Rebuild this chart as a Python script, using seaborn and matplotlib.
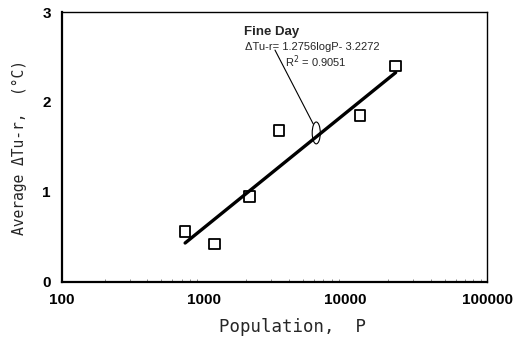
import matplotlib
matplotlib.use("Agg")
import matplotlib.pyplot as plt
from matplotlib.patches import Ellipse
from matplotlib.ticker import LogLocator, FixedLocator, NullFormatter
import numpy as np
import pandas as pd
import seaborn as sns

# Observed towns: population and mean urban-rural temperature difference
population = [740, 1190, 2100, 3400, 12700, 22600]
delta_t = [0.56, 0.42, 0.95, 1.68, 1.85, 2.40]

# Regression for fine days
slope = 1.2756
intercept = -3.2272
r_squared = 0.9051

x_ticks = [100, 1000, 10000, 100000]
x_tick_labels = ["100", "1000", "10000", "100000"]
y_ticks = [0, 1, 2, 3]

sns.set_theme(style="white")
plt.rcParams["font.family"] = ["Liberation Sans", "DejaVu Sans"]

fig = plt.figure(figsize=(5.2, 3.43), dpi=100)
ax = fig.add_axes([0.119, 0.178, 0.818, 0.787])

obs = pd.DataFrame({"P": population, "dT": delta_t})
fit_p = np.array([min(population), max(population)])
fit = pd.DataFrame({"P": fit_p, "dT": slope * np.log10(fit_p) + intercept})

sns.lineplot(data=fit, x="P", y="dT", ax=ax, color="black", linewidth=2.4)
sns.scatterplot(data=obs, x="P", y="dT", ax=ax, marker="s", s=58,
                facecolor="none", edgecolor="black", linewidth=1.3, zorder=5)

ax.set_xscale("log")
ax.set_xlim(100, 100000)
ax.set_ylim(0, 3)
ax.xaxis.set_major_locator(FixedLocator(x_ticks))
ax.set_xticklabels(x_tick_labels)
ax.xaxis.set_minor_locator(LogLocator(base=10, subs=np.arange(2, 10)))
ax.xaxis.set_minor_formatter(NullFormatter())
ax.set_yticks(y_ticks)
ax.set_yticklabels([str(v) for v in y_ticks])
ax.tick_params(axis="both", which="major", length=0, pad=8, labelsize=11,
               labelcolor="black")
ax.tick_params(axis="x", which="minor", direction="in", length=2.5,
               width=0.6, color="#777777", bottom=True)
for lbl in ax.get_xticklabels() + ax.get_yticklabels():
    lbl.set_fontweight("bold")

for side in ["left", "bottom", "right", "top"]:
    ax.spines[side].set_color("black")
    ax.spines[side].set_linewidth(1.0)
ax.spines["left"].set_linewidth(1.6)
ax.spines["bottom"].set_linewidth(1.6)

ax.set_xlabel("")
ax.set_ylabel("")
fig.text(0.563, 0.047, "Population,  P", ha="center", va="center",
         fontsize=12.5, family=["DejaVu Sans Mono"])
fig.text(0.038, 0.57, "Average \u0394Tu-r,  (\u00b0C)", ha="center",
         va="center", rotation=90, fontsize=10.5,
         family=["DejaVu Sans Mono"])

# Equation annotation with leader line and ellipse marker on the fit line
ax.text(0.428, 0.926, "Fine Day", transform=ax.transAxes, fontsize=9.5,
        fontweight="bold", va="center", ha="left")
ax.text(0.431, 0.872, "\u0394Tu-r= 1.2756logP- 3.2272",
        transform=ax.transAxes, fontsize=8, va="center", ha="left")
ax.text(0.525, 0.815, f"R$^2$ = {r_squared:.4f}", transform=ax.transAxes,
        fontsize=8, va="center", ha="left")
ax.plot([0.501, 0.591], [0.859, 0.585], transform=ax.transAxes,
        color="black", linewidth=0.8)
ax.add_patch(Ellipse((0.598, 0.552), 0.019, 0.081, transform=ax.transAxes,
                     fill=False, edgecolor="black", linewidth=0.8))

fig.savefig("out.png", dpi=100)
